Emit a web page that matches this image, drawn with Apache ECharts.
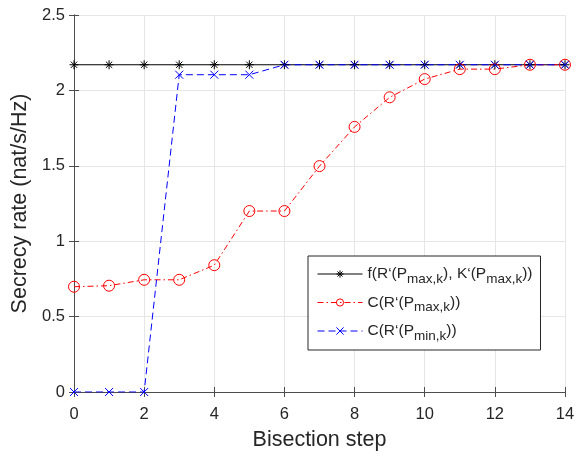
<!DOCTYPE html>
<html>
<head>
<meta charset="utf-8">
<script src="https://cdn.jsdelivr.net/npm/echarts@6/dist/echarts.min.js"></script>
<style>
  html, body { margin: 0; padding: 0; background: #fff; }
  #chart { width: 581px; height: 456px; }
</style>
</head>
<body>
<div id="chart"></div>
<script>
// Bisection steps (x axis)
const steps = [0, 1, 2, 3, 4, 5, 6, 7, 8, 9, 10, 11, 12, 13, 14];
// f(R'(Pmax,k), K'(Pmax,k))
const boundRate = [2.17, 2.17, 2.17, 2.17, 2.17, 2.17, 2.17, 2.17, 2.17, 2.17, 2.17, 2.17, 2.17, 2.17, 2.17];
// C(R'(Pmax,k))
const maxRate = [0.698, 0.705, 0.744, 0.744, 0.841, 1.200, 1.200, 1.498, 1.758, 1.954, 2.075, 2.141, 2.141, 2.17, 2.17];
// C(R'(Pmin,k))
const minRate = [0, 0, 0, 2.104, 2.104, 2.104, 2.17, 2.17, 2.17, 2.17, 2.17, 2.17, 2.17, 2.17, 2.17];

const xTicks = { min: 0, max: 14, interval: 2 };
const yTicks = { min: 0, max: 2.5, interval: 0.5 };

const seriesNames = [
  'f(R‘(P_max,k), K‘(P_max,k))',
  'C(R‘(P_max,k))',
  'C(R‘(P_min,k))'
];

const FONT = '"Liberation Sans", Arial, Helvetica, sans-serif';
const INK = '#262626';
const AXIS = '#4d4d4d';

const pairs = vals => steps.map((s, i) => [s, vals[i]]);

// legend text with subscripts: "P_sub" -> P{s|sub}
function legendRich(name) {
  return name.split(/_(max,k|min,k)/).map((part, i) =>
    i % 2 ? '{s|' + part + '}' : '{a|' + part + '}'
  ).join('');
}

const asterisk = 'path://M5,0L5,10M0,5L10,5M1.5,1.5L8.5,8.5M1.5,8.5L8.5,1.5';
const cross = 'path://M0,0L10,10M0,10L10,0';

const chart = echarts.init(document.getElementById('chart'), null, { renderer: 'canvas' });

const hiddenAxis = {
  axisLabel: { show: false },
  axisLine: { show: true, lineStyle: { color: AXIS, width: 1 } },
  axisTick: { show: true, inside: true, length: 5, lineStyle: { color: AXIS } },
  splitLine: { show: false }
};

chart.setOption({
  animation: false,
  backgroundColor: '#fff',
  grid: { left: 74, right: 16, top: 15, bottom: 63, containLabel: false },
  xAxis: [{
    type: 'value', ...xTicks,
    name: 'Bisection step', nameLocation: 'middle', nameGap: 37,
    nameTextStyle: { fontFamily: FONT, fontSize: 21.5, color: INK },
    axisLine: { show: true, onZero: false, lineStyle: { color: AXIS, width: 1 } },
    axisTick: { show: true, inside: true, length: 5, lineStyle: { color: AXIS } },
    axisLabel: { fontFamily: FONT, fontSize: 16.5, color: INK, margin: 14 },
    splitLine: { show: true, lineStyle: { color: '#e6e6e6', width: 1 } }
  }, {
    type: 'value', ...xTicks, position: 'top', ...hiddenAxis
  }],
  yAxis: [{
    type: 'value', ...yTicks,
    name: 'Secrecy rate (nat/s/Hz)', nameLocation: 'middle', nameGap: 42,
    nameTextStyle: { fontFamily: FONT, fontSize: 21.5, color: INK },
    axisLine: { show: true, onZero: false, lineStyle: { color: AXIS, width: 1 } },
    axisTick: { show: true, inside: true, length: 5, lineStyle: { color: AXIS } },
    axisLabel: { fontFamily: FONT, fontSize: 16.5, color: INK, margin: 9 },
    splitLine: { show: true, lineStyle: { color: '#e6e6e6', width: 1 } }
  }, {
    type: 'value', ...yTicks, position: 'right', ...hiddenAxis
  }],
  legend: {
    orient: 'vertical',
    left: 308, top: 256,
    padding: [6, 8, 7, 9],
    itemGap: 4.5,
    itemWidth: 45, itemHeight: 9,
    backgroundColor: '#fff',
    borderColor: INK, borderWidth: 1,
    lineStyle: { width: 1 },
    itemStyle: { borderWidth: 1 },
    data: seriesNames,
    formatter: legendRich,
    textStyle: {
      fontFamily: FONT, color: INK,
      rich: {
        a: { fontFamily: FONT, fontSize: 15.5, color: INK, lineHeight: 24, verticalAlign: 'middle' },
        s: { fontFamily: FONT, fontSize: 13.5, color: INK, lineHeight: 24, verticalAlign: 'bottom', padding: [10, 0, 0, 0] }
      }
    }
  },
  series: [{
    name: seriesNames[0], type: 'line', data: pairs(boundRate),
    symbol: asterisk, symbolSize: 9,
    itemStyle: { color: 'transparent', borderColor: '#000', borderWidth: 1 },
    lineStyle: { color: '#000', width: 1, type: 'solid' }
  }, {
    name: seriesNames[1], type: 'line', data: pairs(maxRate),
    symbol: 'circle', symbolSize: 11,
    itemStyle: { color: 'transparent', borderColor: '#ff0000', borderWidth: 1 },
    lineStyle: { color: '#ff0000', width: 1, type: [6, 3, 1.5, 3] }
  }, {
    name: seriesNames[2], type: 'line', data: pairs(minRate),
    symbol: cross, symbolSize: 8,
    itemStyle: { color: 'transparent', borderColor: '#0000ff', borderWidth: 1 },
    lineStyle: { color: '#0000ff', width: 1, type: [7, 4] }
  }]
});
</script>
</body>
</html>
